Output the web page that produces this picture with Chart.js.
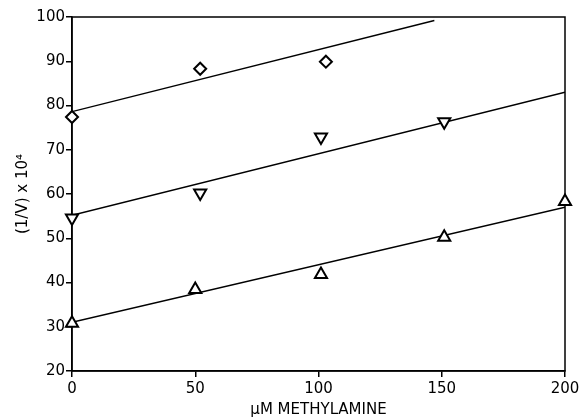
<!DOCTYPE html>
<html lang="en">
  <head>
    <meta charset="UTF-8" />
    <title>1/V vs methylamine</title>
    <script src="https://cdn.jsdelivr.net/npm/chart.js"></script>
    <style>
      html, body { margin: 0; padding: 0; background: #fff; }
    </style>
  </head>
  <body>
    <canvas id="chart" width="583" height="419"></canvas>

    <script>
      // measured points (µM methylamine, (1/V) x 10^4)
      const diamondX = [0, 52, 103];
      const diamondY = [77.4, 88.3, 89.9];
      const downX = [0, 52, 101, 151];
      const downY = [54.6, 60.2, 72.9, 76.3];
      const upX = [0, 50, 101, 151, 200];
      const upY = [30.8, 38.4, 41.8, 50.2, 58.3];

      // fitted line end points
      const diamondFitX = [0, 147];
      const diamondFitY = [78.6, 99.2];
      const downFitX = [0, 200];
      const downFitY = [55.2, 83.0];
      const upFitX = [0, 200];
      const upFitY = [31.0, 57.0];

      const xTicks = [0, 50, 100, 150, 200];
      const yTicks = [20, 30, 40, 50, 60, 70, 80, 90, 100];

      const pts = (xs, ys) => xs.map((x, i) => ({ x, y: ys[i] }));
      const FONT = "'DejaVu Sans', sans-serif";

      const fitLine = (xs, ys) => ({
        type: "line",
        data: pts(xs, ys),
        borderColor: "#000",
        borderWidth: 1.4,
        pointRadius: 0,
        fill: false,
        order: 2,
      });
      const marks = (xs, ys, style, rot, r) => ({
        type: "scatter",
        data: pts(xs, ys),
        pointStyle: style,
        rotation: rot,
        pointRadius: r,
        pointBorderWidth: 2,
        borderColor: "#000",
        backgroundColor: "#fff",
        clip: false,
        order: 1,
      });

      // box around the plot, drawn under the markers
      const frame = {
        id: "frame",
        beforeDatasetsDraw(chart) {
          const a = chart.chartArea;
          const c = chart.ctx;
          c.save();
          c.strokeStyle = "#000";
          c.lineWidth = 1.5;
          c.strokeRect(a.left, a.top, a.right - a.left, a.bottom - a.top);
          c.restore();
        },
      };

      new Chart(document.getElementById("chart").getContext("2d"), {
        type: "scatter",
        data: {
          datasets: [
            fitLine(diamondFitX, diamondFitY),
            fitLine(downFitX, downFitY),
            fitLine(upFitX, upFitY),
            marks(diamondX, diamondY, "rectRot", 0, 6),
            marks(downX, downY, "triangle", 180, 7),
            marks(upX, upY, "triangle", 0, 7),
          ],
        },
        options: {
          responsive: false,
          animation: false,
          layout: { padding: { left: 14, right: 18, top: 17, bottom: 0 } },
          plugins: { legend: { display: false }, tooltip: { enabled: false } },
          scales: {
            x: {
              type: "linear",
              min: 0,
              max: 200,
              afterBuildTicks: (s) => { s.ticks = xTicks.map((v) => ({ value: v })); },
              afterFit: (s) => { s.height = 48; },
              grid: { drawOnChartArea: false, drawTicks: true, tickLength: 6, color: "#000", lineWidth: 1.5 },
              border: { display: true, color: "#000", width: 1.5 },
              ticks: { color: "#000", font: { family: FONT, size: 15 }, padding: 3, maxRotation: 0 },
              title: { display: true, text: "µM METHYLAMINE", color: "#000", font: { family: FONT, size: 15 }, padding: { top: 0, bottom: 0 } },
            },
            y: {
              type: "linear",
              min: 20,
              max: 100,
              afterBuildTicks: (s) => { s.ticks = yTicks.map((v) => ({ value: v })); },
              afterFit: (s) => { s.width = 58; },
              grid: { drawOnChartArea: false, drawTicks: true, tickLength: 6, color: "#000", lineWidth: 1.5 },
              border: { display: true, color: "#000", width: 1.5 },
              ticks: { color: "#000", font: { family: FONT, size: 15 }, padding: 1 },
              title: { display: true, text: "(1/V) x 10⁴", color: "#000", font: { family: FONT, size: 15 }, padding: { top: 0, bottom: 4 } },
            },
          },
        },
        plugins: [frame],
      });
    </script>
  </body>
</html>
